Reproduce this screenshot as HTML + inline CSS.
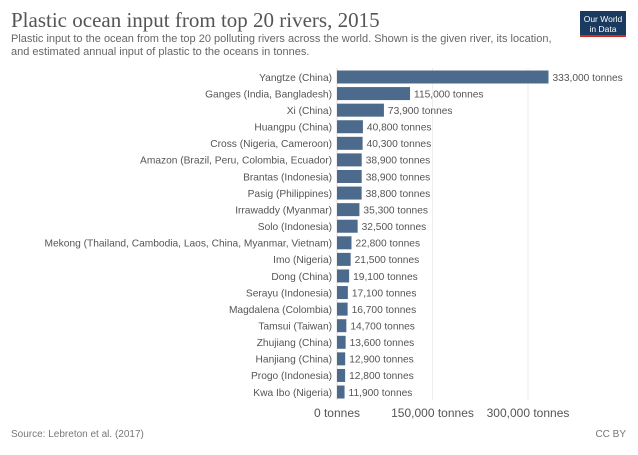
<!DOCTYPE html>
<html><head><style>
body{margin:0;background:#fff;width:638px;height:450px;overflow:hidden;font-family:"Liberation Sans",sans-serif;}
</style></head><body>
<svg width="638" height="450" xmlns="http://www.w3.org/2000/svg" font-family="Liberation Sans, sans-serif">
<text x="11" y="27" font-family="Liberation Serif, serif" font-size="21" fill="#555">Plastic ocean input from top 20 rivers, 2015</text>
<text x="11" y="42" font-size="11" fill="#666">Plastic input to the ocean from the top 20 polluting rivers across the world. Shown is the given river, its location,</text>
<text x="11" y="55" font-size="11" fill="#666">and estimated annual input of plastic to the oceans in tonnes.</text>
<rect x="580" y="11" width="46" height="26" fill="#1a3a5f"/>
<rect x="580" y="35" width="46" height="2" fill="#d42b21"/>
<text x="603" y="22" font-size="8.5" fill="#fff" text-anchor="middle">Our World</text>
<text x="603" y="32" font-size="8.5" fill="#fff" text-anchor="middle">in Data</text>
<g stroke="#eee" stroke-width="1">
<line x1="432.5" y1="68" x2="432.5" y2="400"/>
<line x1="528" y1="68" x2="528" y2="400"/>
</g>
<line x1="337" y1="68" x2="337" y2="400" stroke="#ddd"/>
<g font-size="10.2" fill="#555" id="rows"></g>
<text x="337" y="417" font-size="12" fill="#555" text-anchor="middle">0 tonnes</text>
<text x="432.5" y="417" font-size="12" fill="#555" text-anchor="middle">150,000 tonnes</text>
<text x="528" y="417" font-size="12" fill="#555" text-anchor="middle">300,000 tonnes</text>
<text x="11" y="437" font-size="10" fill="#777">Source: Lebreton et al. (2017)</text>
<text x="626" y="437" font-size="10" fill="#777" text-anchor="end">CC BY</text>
</svg>
<script>
var d=[["Yangtze (China)",333000],["Ganges (India, Bangladesh)",115000],["Xi (China)",73900],["Huangpu (China)",40800],["Cross (Nigeria, Cameroon)",40300],["Amazon (Brazil, Peru, Colombia, Ecuador)",38900],["Brantas (Indonesia)",38900],["Pasig (Philippines)",38800],["Irrawaddy (Myanmar)",35300],["Solo (Indonesia)",32500],["Mekong (Thailand, Cambodia, Laos, China, Myanmar, Vietnam)",22800],["Imo (Nigeria)",21500],["Dong (China)",19100],["Serayu (Indonesia)",17100],["Magdalena (Colombia)",16700],["Tamsui (Taiwan)",14700],["Zhujiang (China)",13600],["Hanjiang (China)",12900],["Progo (Indonesia)",12800],["Kwa Ibo (Nigeria)",11900]];
var g=document.getElementById("rows"),s="";
d.forEach(function(r,i){var c=77+i*16.58,w=r[1]*211.5/333000;
s+='<text x="332" y="'+(c+3.8)+'" text-anchor="end">'+r[0]+'</text>';
s+='<rect x="337" y="'+(c-6.5)+'" width="'+w+'" height="13" fill="#4c6a8c"/>';
s+='<text x="'+(337+w+4)+'" y="'+(c+3.8)+'">'+r[1].toLocaleString("en-US")+' tonnes</text>';});
g.innerHTML=s;
</script>
</body></html>
